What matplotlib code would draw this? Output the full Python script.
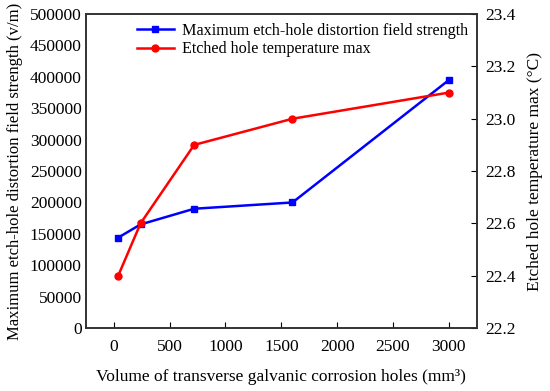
import matplotlib
matplotlib.use("Agg")
import matplotlib.pyplot as plt

plt.rcParams['font.family'] = ['Liberation Serif', 'DejaVu Serif']

volume = [40, 240, 720, 1600, 3000]
field_strength = [144000, 165000, 190000, 200000, 395000]
temperature = [22.4, 22.6, 22.9, 23.0, 23.1]

fig = plt.figure(figsize=(5.5, 3.91), dpi=100)
ax = fig.add_axes([0.156, 0.161, 0.711, 0.803])
ax2 = ax.twinx()

l1, = ax.plot(volume, field_strength, color='#0000ff', marker='s', markersize=5,
              linewidth=1.8, label='Maximum etch-hole distortion field strength')
l2, = ax2.plot(volume, temperature, color='#ff0000', marker='o', markersize=5,
               linewidth=1.8, label='Etched hole temperature max')

ax.set_xlim(-250, 3250)
ax.set_ylim(0, 500000)
ax2.set_ylim(22.2, 23.4)
ax.set_xticks([0, 500, 1000, 1500, 2000, 2500, 3000])
ax.set_yticks(range(0, 500001, 50000))
ax2.set_yticks([22.2, 22.4, 22.6, 22.8, 23.0, 23.2, 23.4])
ax2.set_yticklabels(['22.2', '22.4', '22.6', '22.8', '23.0', '23.2', '23.4'])

ax.tick_params(axis='x', direction='in', labelsize=12.5, length=4, pad=8)
ax.tick_params(axis='y', direction='in', labelsize=12.5, length=0, pad=3)
ax2.tick_params(direction='in', labelsize=12.5, length=4, pad=6)
for a in (ax, ax2):
    for s in a.spines.values():
        s.set_linewidth(1.2)
        s.set_color('#333333')

ax.set_xlabel('Volume of transverse galvanic corrosion holes (mm³)', fontsize=12.5, labelpad=10)
ax.set_ylabel('Maximum etch-hole distortion field strength (v/m)', fontsize=12, labelpad=5)
ax2.set_ylabel('Etched hole temperature max (°C)', fontsize=12.5, labelpad=8)

ax.legend(handles=[l1, l2], loc='upper right', frameon=False, fontsize=11.6,
          handlelength=2.3, borderaxespad=0.15, labelspacing=0.15, handletextpad=0.5)

fig.savefig('out.png', dpi=100)
